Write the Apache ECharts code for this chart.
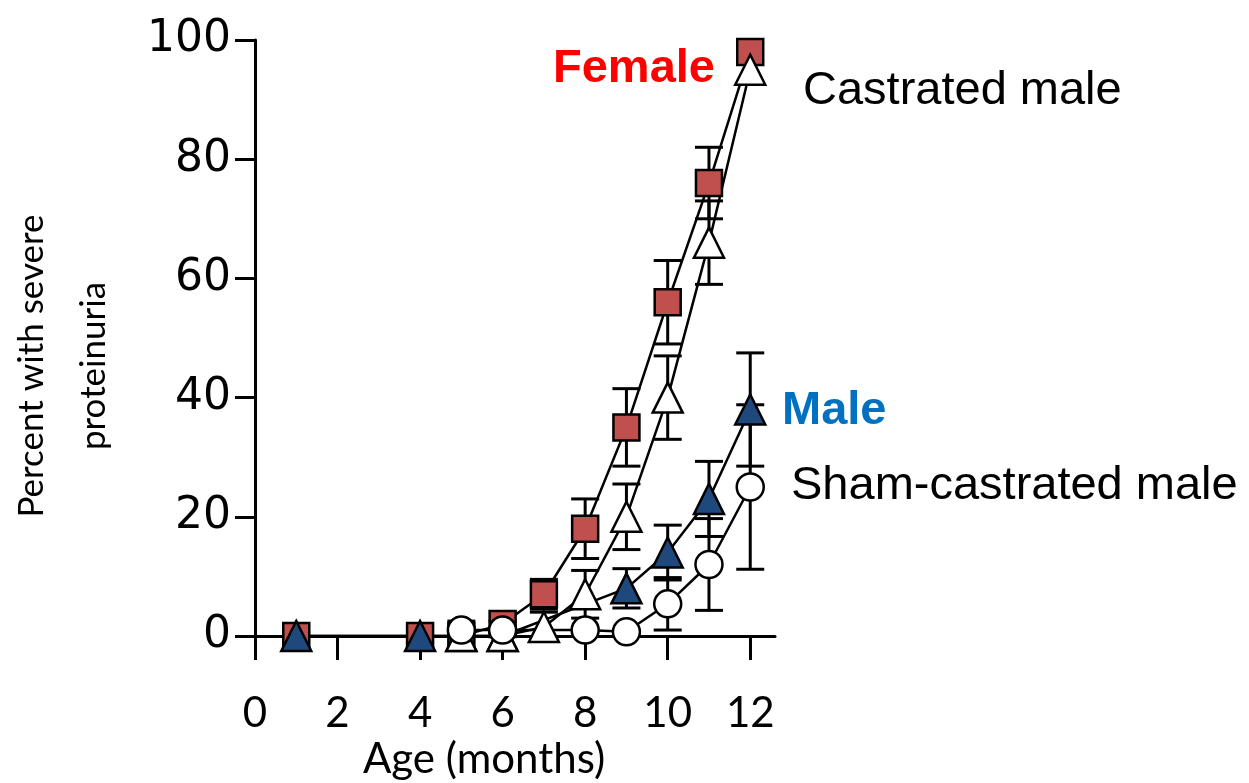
<!DOCTYPE html>
<html>
<head>
<meta charset="utf-8">
<script src="https://cdn.jsdelivr.net/npm/echarts@6/dist/echarts.min.js"></script>
<style>
  html, body { margin: 0; background: #fff; }
  #chart { width: 1249px; height: 783px; }
</style>
</head>
<body>
<div id="chart"></div>
<script>
// x ticks (months)
const xTicks = [0, 2, 4, 6, 8, 10, 12]

// Female (red squares)
const femaleMonths = [1, 4, 5, 6, 7, 8, 9, 10, 11, 12]
const femaleValues = [0, 0, 0, 2, 7, 18, 35, 56, 76, 98]
const femaleErr = [0, 0, 0, 0, 2.5, 5, 6.5, 7, 6, 0]

// Male (dark blue triangles)
const maleMonths = [1, 4, 5, 6, 9, 10, 11, 12]
const maleValues = [0, 0, 0, 0, 8, 14, 23, 38]
const maleErr = [0, 0, 0, 0, 3.3, 4.6, 6.3, 9.5]

// Castrated male (white triangles)
const castratedMonths = [5, 6, 7, 8, 9, 10, 11, 12]
const castratedValues = [0, 0, 1.5, 7, 20, 40, 66, 95]
const castratedErr = [2.5, 2.5, 2.5, 4, 5.5, 7, 7, 0]

// Sham-castrated male (white circles)
const shamMonths = [5, 6, 8, 9, 10, 11, 12]
const shamValues = [1, 1, 1, 0.7, 5.4, 12, 25]
const shamErr = [0, 0, 0, 0, 4.4, 7.7, 13.8]

const chart = echarts.init(document.getElementById('chart'))

const pairs = (xs, ys) => xs.map((x, i) => [x, ys[i]])
const errData = (xs, ys, es) => xs
  .map((x, i) => [x, ys[i] - es[i], ys[i] + es[i]])
  .filter((d, i) => es[i] > 0)

// vertical error bar with caps (no cap when the end falls below the x axis)
const renderErr = (params, api) => {
  const x = api.value(0)
  const lo = api.coord([x, api.value(1)])
  const hi = api.coord([x, api.value(2)])
  const half = 14
  const style = { stroke: '#000', lineWidth: 3 }
  const children = [
    { type: 'line', shape: { x1: lo[0], y1: lo[1], x2: hi[0], y2: hi[1] }, style }
  ]
  children.push({ type: 'line', shape: { x1: hi[0] - half, y1: hi[1], x2: hi[0] + half, y2: hi[1] }, style })
  if (api.value(1) >= 0) {
    children.push({ type: 'line', shape: { x1: lo[0] - half, y1: lo[1], x2: lo[0] + half, y2: lo[1] }, style })
  }
  return { type: 'group', children }
}

const errSeries = (xs, ys, es) => ({
  type: 'custom',
  renderItem: renderErr,
  data: errData(xs, ys, es),
  clip: false,
  silent: true
})

const lineSeries = (name, xs, ys, symbol, size, fill) => ({
  name: name,
  type: 'line',
  data: pairs(xs, ys),
  symbol: symbol,
  symbolSize: size,
  showAllSymbol: true,
  clip: false,
  lineStyle: { color: '#000', width: 2.5 },
  itemStyle: { color: fill, borderColor: '#000', borderWidth: 2.5, opacity: 1 }
})

const option = {
  animation: false,
  backgroundColor: '#fff',
  grid: { left: 255, right: 474, top: 40, bottom: 147, outerBoundsMode: 'none' },
  xAxis: {
    type: 'value',
    min: 0,
    max: 12.6,
    interval: 2,
    name: 'Age (months)',
    nameLocation: 'middle',
    nameGap: 99,
    nameTextStyle: { fontFamily: 'Lato', fontSize: 42, color: '#000', padding: [0, 62, 0, 0] },
    axisLine: { onZero: true, lineStyle: { color: '#000', width: 3 } },
    axisTick: { customValues: xTicks, length: 24, lineStyle: { color: '#000', width: 3 } },
    axisLabel: { customValues: xTicks, margin: 56, fontFamily: 'Lato', fontSize: 42, color: '#000' },
    splitLine: { show: false }
  },
  yAxis: {
    type: 'value',
    min: 0,
    max: 100,
    interval: 20,
    name: 'Percent with severe\nproteinuria',
    nameLocation: 'middle',
    nameRotate: 90,
    nameGap: 130,
    nameTextStyle: { fontFamily: 'Lato', fontSize: 35, color: '#000', lineHeight: 62, padding: [0, 56, 0, 0] },
    axisLine: { onZero: true, lineStyle: { color: '#000', width: 3 } },
    axisTick: { length: 20, lineStyle: { color: '#000', width: 3 } },
    axisLabel: { margin: 24, fontFamily: 'DejaVu Sans', fontSize: 44, color: '#000' },
    splitLine: { show: false }
  },
  graphic: [
    { type: 'text', left: 553, top: 46, style: { text: 'Female', fill: '#FF0000', font: 'bold 47px "Liberation Sans"' } },
    { type: 'text', left: 803, top: 68, style: { text: 'Castrated male', fill: '#000', font: '47px "Liberation Sans"' } },
    { type: 'text', left: 782, top: 388, style: { text: 'Male', fill: '#0070C0', font: 'bold 47px "Liberation Sans"' } },
    { type: 'text', left: 791, top: 463, style: { text: 'Sham-castrated male', fill: '#000', font: '47px "Liberation Sans"' } }
  ],
  series: [
    errSeries(femaleMonths, femaleValues, femaleErr),
    lineSeries('Female', femaleMonths, femaleValues, 'rect', 26, '#C0504D'),
    errSeries(maleMonths, maleValues, maleErr),
    lineSeries('Male', maleMonths, maleValues, 'triangle', [30, 30], '#1F487C'),
    errSeries(castratedMonths, castratedValues, castratedErr),
    lineSeries('Castrated male', castratedMonths, castratedValues, 'triangle', [30, 30], '#FFFFFF'),
    errSeries(shamMonths, shamValues, shamErr),
    lineSeries('Sham-castrated male', shamMonths, shamValues, 'circle', 27, '#FFFFFF')
  ]
}

chart.setOption(option)
</script>
</body>
</html>
